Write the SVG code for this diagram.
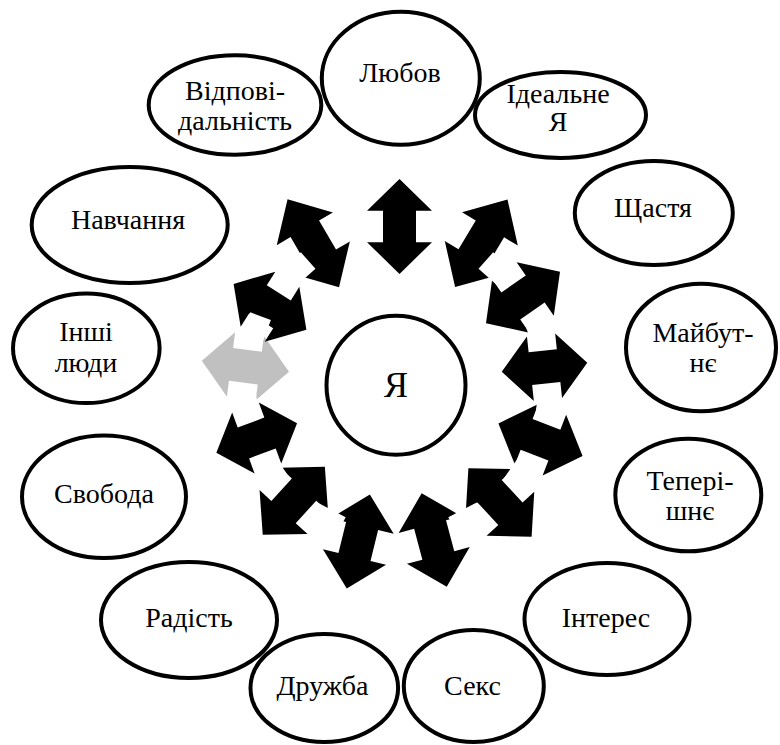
<svg xmlns="http://www.w3.org/2000/svg" xmlns:xlink="http://www.w3.org/1999/xlink" width="780" height="745" viewBox="0 0 780 745">
  <style>
    .node ellipse, .node circle { fill: none; stroke: #000; stroke-width: 4; }
    .node text { font-size: 28px; fill: #000; text-anchor: middle; }
    .arrow { fill: #000; }
    .arrow.muted { fill: #c0c0c0; }
    .gap { fill: #fff; }
  </style>
  <defs>
    <!-- double-headed arrow, 94 long, centred on the origin, pointing along x -->
    <polygon id="dbl" points="-47,0 -15.5,-32.5 -15.5,-16.5 15.5,-16.5 15.5,-32.5 47,0 15.5,32.5 15.5,16.5 -15.5,16.5 -15.5,32.5"/>
    <rect id="gapbar" x="-16" y="-11" width="32" height="22"/>
  </defs>

  <!-- ring of two-way arrows around the centre -->
  <g id="connectors">
    <use xlink:href="#dbl" class="arrow" transform="translate(399.5,226.5) rotate(90) scale(1.01,1)"/>
    <use xlink:href="#dbl" class="arrow" transform="translate(481.3,243.3) rotate(-59.1) scale(1.085,1)"/>
    <use xlink:href="#dbl" class="arrow" transform="translate(523,297.5) rotate(-34.9) scale(0.96,1)"/>
    <use xlink:href="#dbl" class="arrow" transform="translate(544.5,367.2) rotate(-6.1) scale(0.915,1)"/>
    <use xlink:href="#dbl" class="arrow" transform="translate(540.5,439.7) rotate(21.2) scale(0.96,1)"/>
    <use xlink:href="#dbl" class="arrow" transform="translate(500,502.5) rotate(47.2) scale(0.99,1)"/>
    <use xlink:href="#dbl" class="arrow" transform="translate(434.2,540) rotate(75) scale(1.03,1)"/>
    <use xlink:href="#dbl" class="arrow" transform="translate(358.3,541.5) rotate(103.8) scale(1.03,1)"/>
    <use xlink:href="#dbl" class="arrow" transform="translate(293.8,500.8) rotate(132.4) scale(0.98,1)"/>
    <use xlink:href="#dbl" class="arrow" transform="translate(256.7,438) rotate(159.8) scale(0.915,1)"/>
    <use xlink:href="#dbl" class="arrow muted" transform="translate(245.4,366.2) rotate(7.2) scale(0.935,1)"/>
    <use xlink:href="#dbl" class="arrow" transform="translate(270,306.8) rotate(32.2) scale(0.915,1)"/>
    <use xlink:href="#dbl" class="arrow" transform="translate(313.3,243.3) rotate(59.7) scale(1.085,1)"/>

    <!-- white bars between neighbouring arrows -->
    <use xlink:href="#gapbar" class="gap" transform="translate(497.8,271.2) rotate(41.5)"/>
    <use xlink:href="#gapbar" class="gap" transform="translate(539.1,331.1) rotate(69.2)"/>
    <use xlink:href="#gapbar" class="gap" transform="translate(547.9,403.3) rotate(96.9)"/>
    <use xlink:href="#gapbar" class="gap" transform="translate(522.1,471.4) rotate(124.6)"/>
    <use xlink:href="#gapbar" class="gap" transform="translate(467.6,519.6) rotate(152.3)"/>
    <use xlink:href="#gapbar" class="gap" transform="translate(326.4,519.6) rotate(207.7)"/>
    <use xlink:href="#gapbar" class="gap" transform="translate(271.9,471.4) rotate(235.4)"/>
    <use xlink:href="#gapbar" class="gap" transform="translate(246.1,403.3) rotate(263.1)"/>
    <use xlink:href="#gapbar" class="gap" transform="translate(254.9,331.1) rotate(290.8)"/>
    <use xlink:href="#gapbar" class="gap" transform="translate(296.2,271.2) rotate(318.5)"/>
  </g>

  <g font-family="Liberation Serif, Times New Roman, Tinos, DejaVu Serif, serif">
  <g id="self" class="node">
    <circle cx="396" cy="385.3" r="69.5"/>
    <text x="396" y="397" style="font-size:36px">Я</text>
  </g>

  <g id="love" class="node">
    <ellipse cx="400.8" cy="78.3" rx="79" ry="66.5"/>
    <text x="400" y="82">Любов</text>
  </g>
  <g id="responsibility" class="node">
    <ellipse cx="235" cy="105" rx="86.3" ry="49.7"/>
    <text x="235" y="100">Відпові-</text>
    <text x="235" y="130">дальність</text>
  </g>
  <g id="ideal-self" class="node">
    <ellipse cx="560.5" cy="115" rx="85.5" ry="43"/>
    <text x="558" y="103">Ідеальне</text>
    <text x="558" y="131">Я</text>
  </g>
  <g id="happiness" class="node">
    <ellipse cx="653.8" cy="213" rx="79" ry="52"/>
    <text x="653" y="217">Щастя</text>
  </g>
  <g id="future" class="node">
    <ellipse cx="701" cy="347.5" rx="75" ry="63.8"/>
    <text x="703" y="342">Майбут-</text>
    <text x="703" y="372">нє</text>
  </g>
  <g id="present" class="node">
    <ellipse cx="688.3" cy="495" rx="73" ry="56.3"/>
    <text x="690" y="490">Тепері-</text>
    <text x="690" y="520">шнє</text>
  </g>
  <g id="interest" class="node">
    <ellipse cx="607" cy="619" rx="82.5" ry="56"/>
    <text x="606" y="627">Інтерес</text>
  </g>
  <g id="sex" class="node">
    <ellipse cx="473.8" cy="686" rx="70" ry="56"/>
    <text x="472.5" y="695">Секс</text>
  </g>
  <g id="friendship" class="node">
    <ellipse cx="324.3" cy="688" rx="73.8" ry="54"/>
    <text x="322.5" y="695">Дружба</text>
  </g>
  <g id="joy" class="node">
    <ellipse cx="189" cy="620" rx="88" ry="58"/>
    <text x="189" y="627">Радість</text>
  </g>
  <g id="freedom" class="node">
    <ellipse cx="104" cy="496.7" rx="82" ry="61.3"/>
    <text x="104" y="503">Свобода</text>
  </g>
  <g id="others" class="node">
    <ellipse cx="86.3" cy="348.3" rx="73.3" ry="54.7"/>
    <text x="86" y="341">Інші</text>
    <text x="86" y="372">люди</text>
  </g>
  <g id="learning" class="node">
    <ellipse cx="129.7" cy="225" rx="98" ry="58"/>
    <text x="128" y="229">Навчання</text>
  </g>
  </g>
</svg>
